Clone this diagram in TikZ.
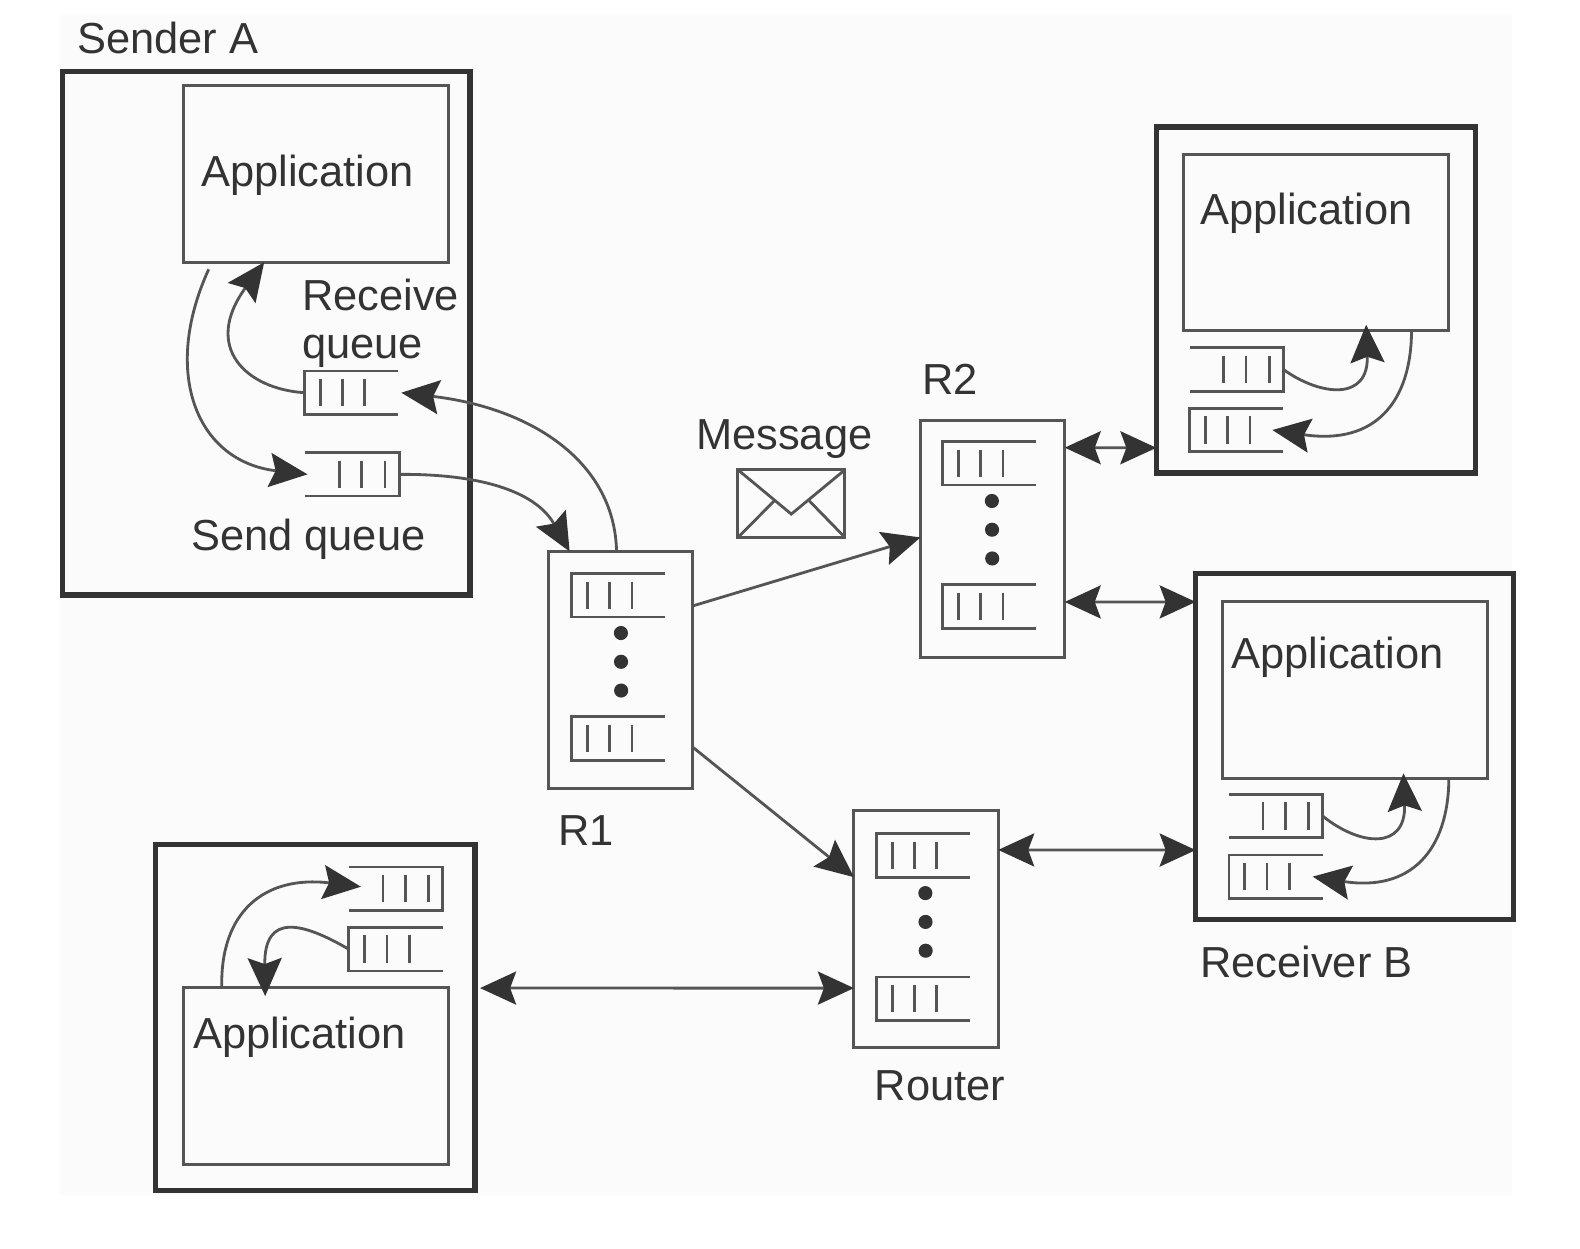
\documentclass[tikz,border=0pt]{standalone}
\usepackage{fontspec}
\setmainfont{Liberation Sans}
\usetikzlibrary{positioning,arrows.meta}

\definecolor{inkgray}{HTML}{333333}
\definecolor{linegray}{HTML}{555555}
\definecolor{papergray}{HTML}{FBFBFB}

% queue open on the right
\newcommand{\queueopenr}[3]{
        \node[queuenode] (#1) at (#2,#3) {};
        \draw[queueline] (#1.north east) -- (#1.north west) -- (#1.south west) -- (#1.south east);
        \foreach \b in {16,38,60} \draw[queueline, shift={(#2,#3)}] (\b,8) -- (\b,35);
}
% queue open on the left
\newcommand{\queueopenl}[3]{
        \node[queuenode] (#1) at (#2,#3) {};
        \draw[queueline] (#1.north west) -- (#1.north east) -- (#1.south east) -- (#1.south west);
        \foreach \b in {34,56,79} \draw[queueline, shift={(#2,#3)}] (\b,8) -- (\b,35);
}

\begin{document}
\begin{tikzpicture}[x=0.01cm, y=-0.01cm, scale=1.008, every node/.append style={transform shape},
        hostnode/.style={rectangle, draw=inkgray, line width=1.45pt, inner sep=0pt, outer sep=0pt, anchor=north west},
        appnode/.style={rectangle, draw=linegray, line width=0.85pt, inner sep=0pt, outer sep=0pt, anchor=north west, minimum width=2.63cm, minimum height=1.75cm},
        routernode/.style={rectangle, draw=linegray, line width=0.85pt, inner sep=0pt, outer sep=0pt, anchor=north west, minimum width=1.43cm, minimum height=2.35cm},
        queuenode/.style={rectangle, inner sep=0pt, outer sep=0pt, anchor=north west, minimum width=0.93cm, minimum height=0.43cm},
        queueline/.style={draw=linegray, line width=0.8pt},
        dotnode/.style={circle, fill=inkgray, inner sep=0pt, minimum size=0.14cm},
        textnode/.style={inner sep=0pt, anchor=base west, text=inkgray, xshift=-0.01cm, font=\fontsize{12.25}{14}\selectfont},
        flow/.style={draw=linegray, line width=0.8pt, -{Stealth[length=0.38cm, width=0.34cm, inset=0.06cm, inkgray]}},
        both/.style={draw=linegray, line width=0.8pt, {Stealth[length=0.36cm, width=0.33cm, inset=0.06cm, inkgray]}-{Stealth[length=0.36cm, width=0.33cm, inset=0.06cm, inkgray]}}]

        \useasboundingbox (0,0) rectangle (1567.46,1238.1);
        \fill[papergray] (60,15) rectangle (1500,1185);

        % sender
        \node[hostnode, minimum width=4.04cm, minimum height=5.19cm] (sender) at (62,71) {};
        \node[appnode] (senderapp) at (182,85) {};
        \node[textnode] (sendername) at (77,53) {Sender A};
        \node[textnode] (senderapptext) at (200,185) {Application};
        \node[textnode] (recvtext) at (300,308) {Receive};
        \node[textnode] (recvtexttwo) at (300,356) {queue};
        \node[textnode] (sendtext) at (190,546) {Send queue};
        \queueopenr{recvq}{302}{368}
        \queueopenl{sendq}{303}{449}

        % top right host
        \node[hostnode, minimum width=3.17cm, minimum height=3.43cm] (upper) at (1147,126) {};
        \node[appnode] (upperapp) at (1174,153) {};
        \node[textnode] (upperapptext) at (1191,223) {Application};
        \queueopenl{uppersend}{1180}{345}
        \queueopenr{upperrecv}{1180}{405}

        % receiver
        \node[hostnode, minimum width=3.15cm, minimum height=3.43cm] (receiver) at (1186,569) {};
        \node[appnode] (receiverapp) at (1213,597) {};
        \node[textnode] (receiverapptext) at (1222,663) {Application};
        \node[textnode] (receivername) at (1191,970) {Receiver B};
        \queueopenl{receiversend}{1219}{788}
        \queueopenr{receiverrecv}{1219}{848}

        % bottom left host
        \node[hostnode, minimum width=3.17cm, minimum height=3.43cm] (lower) at (154,838) {};
        \node[appnode] (lowerapp) at (182,980) {};
        \node[textnode] (lowerapptext) at (192,1040) {Application};
        \queueopenl{lowerrecv}{346}{860}
        \queueopenr{lowersend}{346}{920}

        % routers
        \node[routernode] (r1) at (544,547) {};
        \queueopenr{r1top}{567}{569}
        \queueopenr{r1bot}{567}{711}
        \node[dotnode] (r1dota) at (616,628) {};
        \node[dotnode] (r1dotb) [below=0.13cm of r1dota] {};
        \node[dotnode] (r1dotc) [below=0.13cm of r1dotb] {};
        \node[textnode] (r1text) at (554,839) {R1};

        \node[routernode] (r2) at (913,417) {};
        \queueopenr{r2top}{935}{438}
        \queueopenr{r2bot}{935}{580}
        \node[dotnode] (r2dota) at (984,497) {};
        \node[dotnode] (r2dotb) [below=0.13cm of r2dota] {};
        \node[dotnode] (r2dotc) [below=0.13cm of r2dotb] {};
        \node[textnode] (r2text) at (915,391) {R2};

        \node[routernode] (router) at (847,804) {};
        \queueopenr{routertop}{869}{827}
        \queueopenr{routerbot}{869}{969}
        \node[dotnode] (routerdota) at (918,886) {};
        \node[dotnode] (routerdotb) [below=0.13cm of routerdota] {};
        \node[dotnode] (routerdotc) [below=0.13cm of routerdotb] {};
        \node[textnode] (routertext) at (868,1092) {Router};

        % message
        \node[textnode] (messagetext) at (691,446) {Message};
        \node[rectangle, draw=linegray, line width=0.85pt, inner sep=0pt, outer sep=0pt, anchor=north west, minimum width=1.06cm, minimum height=0.67cm] (envelope) at (732,466) {};
        \draw[queueline] (envelope.north west) -- (785,510) -- (envelope.north east);
        \draw[queueline] (envelope.south west) -- (768,497);
        \draw[queueline] (envelope.south east) -- (803,497);

        % flows inside sender
        \draw[flow] ([xshift=0.25cm, yshift=-0.07cm]senderapp.south west) .. controls (160,370) and (195,458) .. ([xshift=0.02cm]sendq.west);
        \draw[flow] (recvq.west) .. controls (245,386) and (200,345) .. ([xshift=0.8cm]senderapp.south west);

        % sender to R1
        \draw[flow] ([xshift=-0.04cm]r1.north) .. controls (610,460) and (530,405) .. ([xshift=0.03cm]recvq.east);
        \draw[flow] (sendq.east) .. controls (470,470) and (530,485) .. ([xshift=0.21cm]r1.north west);

        % between routers
        \draw[flow] ([yshift=-0.54cm]r1.north east) -- ([yshift=-1.16cm]r2.north west);
        \draw[flow] ([yshift=-1.94cm]r1.north east) -- ([yshift=-0.66cm]router.north west);
        \draw[both] ([yshift=-0.27cm]r2.north east) -- ([yshift=0.25cm]upper.south west);
        \draw[both] ([yshift=-1.8cm]r2.north east) -- ([yshift=-0.28cm]receiver.north west);
        \draw[both] ([yshift=-0.39cm]router.north east) -- ([yshift=0.69cm]receiver.south west);
        \draw[both] ([xshift=0.05cm, yshift=-1.42cm]lower.north east) -- ([yshift=-1.76cm]router.north west);

        % flows inside the other hosts
        \draw[flow] (uppersend.east) .. controls (1310,393) and (1358,398) .. ([xshift=1.81cm, yshift=0.06cm]upperapp.south west);
        \draw[flow] ([xshift=2.26cm]upperapp.south west) .. controls (1400,398) and (1365,442) .. ([xshift=-0.11cm]upperrecv.east);
        \draw[flow] (receiversend.east) .. controls (1350,840) and (1395,843) .. ([xshift=1.79cm, yshift=0.05cm]receiverapp.south west);
        \draw[flow] ([xshift=2.24cm]receiverapp.south west) .. controls (1437,843) and (1400,885) .. ([xshift=-0.1cm]receiverrecv.east);
        \draw[flow] ([xshift=0.38cm]lowerapp.north west) .. controls (218,905) and (262,868) .. ([xshift=0.12cm, yshift=0.02cm]lowerrecv.west);
        \draw[flow] (lowersend.west) .. controls (300,915) and (262,905) .. ([xshift=0.81cm, yshift=-0.08cm]lowerapp.north west);

\end{tikzpicture}
\end{document}
